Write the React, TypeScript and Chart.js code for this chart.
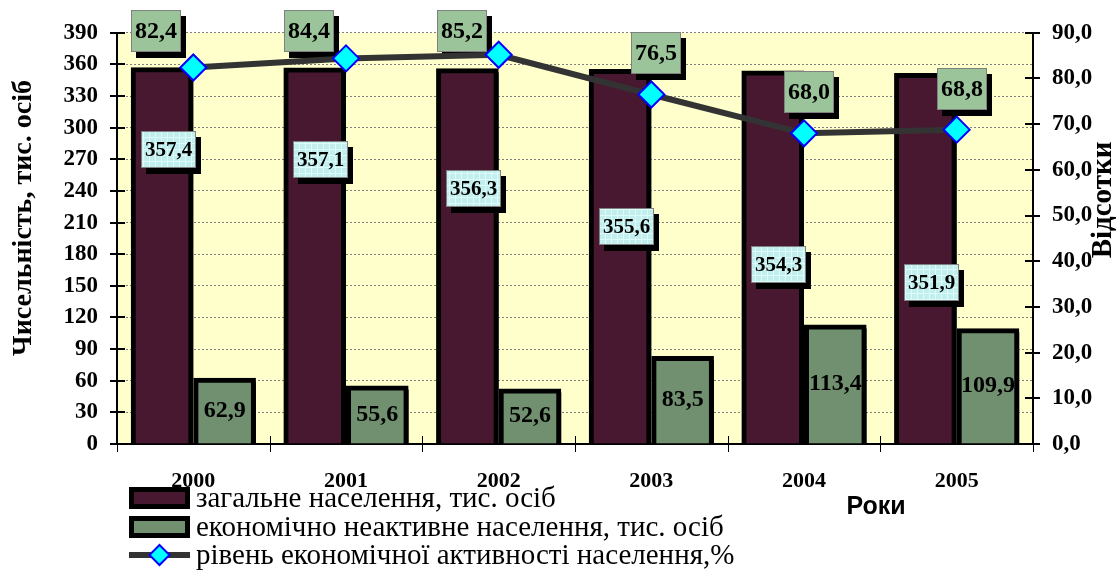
import React, { useEffect, useRef } from 'react';
import { Chart, registerables } from 'chart.js';

Chart.register(...registerables);

// ---- data ----
const years = ['2000', '2001', '2002', '2003', '2004', '2005'];
const totalPopulation = [357.4, 357.1, 356.3, 355.6, 354.3, 351.9];
const inactivePopulation = [62.9, 55.6, 52.6, 83.5, 113.4, 109.9];
const activityRate = [82.4, 84.4, 85.2, 76.5, 68.0, 68.8];

const leftAxisMin = 0;
const leftAxisMax = 390;
const leftAxisStep = 30;
const rightAxisMin = 0;
const rightAxisMax = 90;
const rightAxisStep = 10;

const seriesNames = [
  'загальне населення, тис. осіб',
  'економічно неактивне населення, тис. осіб',
  'рівень економічної активності населення,%',
];
const leftTitle = 'Чисельність, тис. осіб';
const rightTitle = 'Відсотки';
const xTitle = 'Роки';

// label placement inside the "total" bars (fraction of bar height from its top)
const totalLabelDepth = [0.22, 0.245, 0.32, 0.42, 0.52, 0.565];

// ---- styles ----
const SERIF = '"Liberation Serif", "Times New Roman", serif';
const SANS = '"Liberation Sans", Arial, sans-serif';
const PURPLE = '#481830';
const GREEN = '#709070';
const LINE = '#333333';
const PLOT_BG = '#ffffcc';
const LINE_LABEL_BG = '#9cc49a';

const fmt = (v: number) => v.toFixed(1).replace('.', ',');

let cyanPattern: CanvasPattern | string | null = null;
function getCyanPattern(ctx: CanvasRenderingContext2D) {
  if (cyanPattern) return cyanPattern;
  const c = document.createElement('canvas');
  c.width = 6;
  c.height = 6;
  const p = c.getContext('2d')!;
  p.fillStyle = '#c2eeee';
  p.fillRect(0, 0, 6, 6);
  p.fillStyle = '#dcfbfb';
  p.fillRect(5, 0, 1, 6);
  p.fillRect(0, 5, 6, 1);
  cyanPattern = ctx.createPattern(c, 'repeat') || '#c8f2f2';
  return cyanPattern;
}

function drawBoxLabel(
  ctx: CanvasRenderingContext2D,
  text: string,
  cx: number,
  cy: number,
  w: number,
  h: number,
  fill: string | CanvasPattern,
  font: string
) {
  const x = Math.round(cx - w / 2);
  const y = Math.round(cy - h / 2);
  ctx.save();
  ctx.fillStyle = '#000';
  ctx.fillRect(x + 5, y + 6, w, h);
  ctx.fillStyle = fill as any;
  ctx.fillRect(x, y, w, h);
  ctx.strokeStyle = '#808080';
  ctx.lineWidth = 1;
  ctx.strokeRect(x + 0.5, y + 0.5, w - 1, h - 1);
  ctx.fillStyle = '#000';
  ctx.font = font;
  ctx.textAlign = 'center';
  ctx.textBaseline = 'middle';
  ctx.fillText(text, x + w / 2, y + h / 2 + 1);
  ctx.restore();
}

function drawDiamond(ctx: CanvasRenderingContext2D, x: number, y: number, r: number) {
  ctx.save();
  ctx.beginPath();
  ctx.moveTo(x, y - r);
  ctx.lineTo(x + r, y);
  ctx.lineTo(x, y + r);
  ctx.lineTo(x - r, y);
  ctx.closePath();
  ctx.fillStyle = '#00ffff';
  ctx.fill();
  ctx.strokeStyle = '#0000ff';
  ctx.lineWidth = 2;
  ctx.stroke();
  ctx.restore();
}

const decor = {
  id: 'decor',
  beforeDraw(chart: any) {
    const { ctx, chartArea: a } = chart;
    ctx.save();
    ctx.fillStyle = PLOT_BG;
    ctx.fillRect(a.left, a.top, a.right - a.left, a.bottom - a.top);
    ctx.restore();
  },
  beforeDatasetDraw(chart: any, args: any) {
    const ctx = chart.ctx as CanvasRenderingContext2D;
    if (args.index === 0 || args.index === 1) {
      ctx.shadowColor = '#000000';
      ctx.shadowOffsetX = 4;
      ctx.shadowOffsetY = 4;
      ctx.shadowBlur = 0;
    }
    if (args.index === 2) {
      // labels for bars and line, drawn beneath the line
      const m0 = chart.getDatasetMeta(0);
      const m1 = chart.getDatasetMeta(1);
      const m2 = chart.getDatasetMeta(2);
      const pat = getCyanPattern(ctx);
      m0.data.forEach((bar: any, i: number) => {
        const cy = bar.y + totalLabelDepth[i] * (bar.base - bar.y);
        drawBoxLabel(ctx, fmt(totalPopulation[i]), bar.x + 6, cy, 55, 37, pat, `bold 21px ${SERIF}`);
      });
      m1.data.forEach((bar: any, i: number) => {
        ctx.save();
        ctx.fillStyle = '#000';
        ctx.font = `bold 24px ${SERIF}`;
        ctx.textAlign = 'center';
        ctx.textBaseline = 'middle';
        ctx.fillText(fmt(inactivePopulation[i]), bar.x, (bar.y + bar.base) / 2);
        ctx.restore();
      });
      const W = 50;
      const H = 42;
      m2.data.forEach((pt: any, i: number) => {
        let cx = pt.x + 5;
        let cy = pt.y - 41;
        if (cy - H / 2 < 10) {
          cy = 10 + H / 2;
          cx = pt.x - 12 - W / 2;
        }
        drawBoxLabel(ctx, fmt(activityRate[i]), cx, cy, W, H, LINE_LABEL_BG, `bold 24px ${SERIF}`);
      });
    }
  },
  afterDatasetDraw(chart: any, args: any) {
    const ctx = chart.ctx as CanvasRenderingContext2D;
    if (args.index === 0 || args.index === 1) {
      ctx.shadowColor = 'rgba(0,0,0,0)';
      ctx.shadowOffsetX = 0;
      ctx.shadowOffsetY = 0;
    }
  },
  afterDraw(chart: any) {
    const ctx = chart.ctx as CanvasRenderingContext2D;
    const a = chart.chartArea;
    const y = chart.scales.y;
    const y1 = chart.scales.y1;
    ctx.save();
    // cross tick marks on the value axes
    ctx.strokeStyle = '#000';
    ctx.lineWidth = 2;
    y.ticks.forEach((t: any) => {
      const py = Math.round(y.getPixelForValue(t.value));
      ctx.beginPath();
      ctx.moveTo(a.left - 7, py);
      ctx.lineTo(a.left + 8, py);
      ctx.stroke();
    });
    y1.ticks.forEach((t: any) => {
      const py = Math.round(y1.getPixelForValue(t.value));
      ctx.beginPath();
      ctx.moveTo(a.right - 8, py);
      ctx.lineTo(a.right + 7, py);
      ctx.stroke();
    });
    // category boundary ticks
    ctx.lineWidth = 1;
    const n = years.length;
    for (let i = 0; i <= n; i++) {
      const px = Math.round(a.left + ((a.right - a.left) * i) / n) + 0.5;
      ctx.beginPath();
      ctx.moveTo(px, a.bottom - 8);
      ctx.lineTo(px, a.bottom + 8);
      ctx.stroke();
    }
    // axis titles
    ctx.fillStyle = '#000';
    ctx.textAlign = 'center';
    ctx.textBaseline = 'middle';
    ctx.font = `bold 28px ${SERIF}`;
    ctx.save();
    ctx.translate(24, 218);
    ctx.rotate(-Math.PI / 2);
    ctx.fillText(leftTitle, 0, 0);
    ctx.restore();
    ctx.font = `bold 29px ${SERIF}`;
    ctx.save();
    ctx.translate(1104, 200);
    ctx.rotate(-Math.PI / 2);
    ctx.fillText(rightTitle, 0, 0);
    ctx.restore();
    ctx.font = `bold 25px ${SANS}`;
    ctx.fillText(xTitle, 876, 507);
    // legend
    const rows = [498, 527, 555];
    const lx0 = 129;
    const lx1 = 190;
    const colors = [PURPLE, GREEN];
    for (let i = 0; i < 2; i++) {
      ctx.fillStyle = '#000';
      ctx.fillRect(lx0, rows[i] - 11, lx1 - lx0, 22);
      ctx.fillStyle = colors[i];
      ctx.fillRect(lx0 + 5, rows[i] - 6, lx1 - lx0 - 10, 12);
    }
    ctx.strokeStyle = LINE;
    ctx.lineWidth = 6;
    ctx.beginPath();
    ctx.moveTo(lx0, rows[2]);
    ctx.lineTo(lx1, rows[2]);
    ctx.stroke();
    drawDiamond(ctx, (lx0 + lx1) / 2, rows[2], 10);
    ctx.fillStyle = '#000';
    ctx.textAlign = 'left';
    ctx.font = `29px ${SERIF}`;
    seriesNames.forEach((s, i) => ctx.fillText(s, 196, rows[i] + 1));
    ctx.restore();
  },
};

export default function App() {
  const ref = useRef<HTMLCanvasElement>(null);
  useEffect(() => {
    const chart = new Chart(ref.current!, {
      type: 'bar',
      data: {
        labels: years,
        datasets: [
          {
            type: 'bar',
            label: seriesNames[0],
            data: totalPopulation,
            backgroundColor: PURPLE,
            borderColor: '#000',
            borderWidth: 5,
            yAxisID: 'y',
            order: 1,
            categoryPercentage: 0.82,
            barPercentage: 1,
          },
          {
            type: 'bar',
            label: seriesNames[1],
            data: inactivePopulation,
            backgroundColor: GREEN,
            borderColor: '#000',
            borderWidth: 5,
            yAxisID: 'y',
            order: 1,
            categoryPercentage: 0.82,
            barPercentage: 1,
          },
          {
            type: 'line',
            label: seriesNames[2],
            data: activityRate,
            borderColor: LINE,
            borderWidth: 6,
            pointStyle: 'rectRot',
            pointRadius: 13,
            pointBackgroundColor: '#00ffff',
            pointBorderColor: '#0000ff',
            pointBorderWidth: 2,
            yAxisID: 'y1',
            order: 0,
            tension: 0,
          } as any,
        ],
      },
      options: {
        responsive: false,
        animation: false,
        layout: { padding: { top: 31, left: 0, right: 0, bottom: 0 } },
        plugins: { legend: { display: false }, tooltip: { enabled: false } },
        scales: {
          x: {
            grid: { display: false },
            border: { display: true, color: '#000', width: 2 },
            ticks: { color: '#000', font: { family: SERIF, size: 22, weight: 'bold' }, padding: 16 },
            afterFit: (s: any) => {
              s.height = 130;
            },
          },
          y: {
            position: 'left',
            min: leftAxisMin,
            max: leftAxisMax,
            ticks: { stepSize: leftAxisStep, color: '#000', font: { family: SERIF, size: 23, weight: 'bold' }, padding: 19 },
            grid: { color: '#808080', lineWidth: 1, drawTicks: false },
            border: { display: true, color: '#000', width: 2, dash: [2, 2] },
            afterFit: (s: any) => {
              s.width = 117;
            },
          },
          y1: {
            position: 'right',
            min: rightAxisMin,
            max: rightAxisMax,
            ticks: {
              stepSize: rightAxisStep,
              color: '#000',
              font: { family: SERIF, size: 23, weight: 'bold' },
              padding: 19,
              callback: (v: any) => fmt(Number(v)),
            },
            grid: { display: false, drawTicks: false },
            border: { display: true, color: '#000', width: 2 },
            afterFit: (s: any) => {
              s.width = 83;
            },
          },
        },
      } as any,
      plugins: [decor],
    });
    return () => chart.destroy();
  }, []);
  return (
    <div style={{ position: 'absolute', left: 0, top: 0, width: 1116, height: 574, background: '#fff' }}>
      <canvas ref={ref} width={1116} height={574} style={{ display: 'block' }} />
    </div>
  );
}
